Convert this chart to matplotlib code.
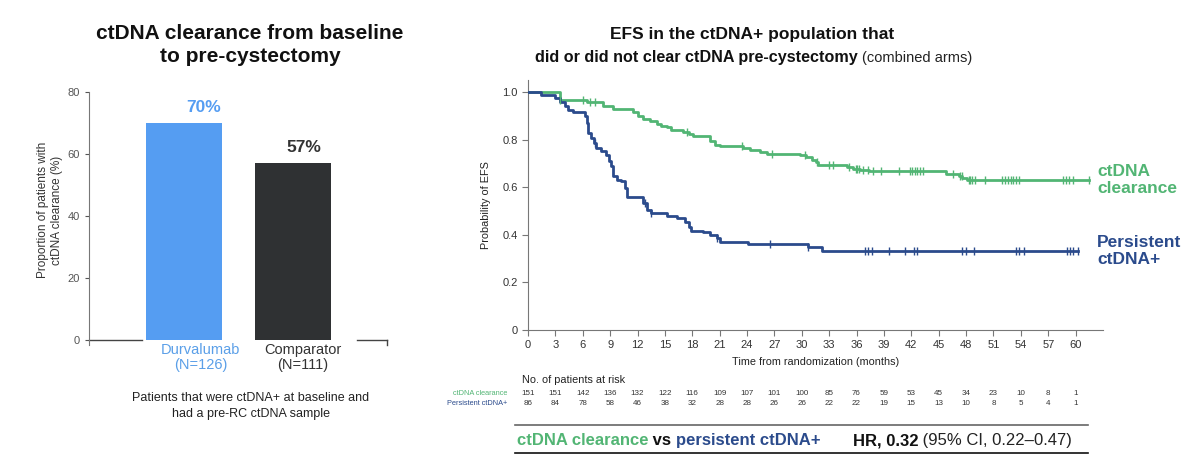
import numpy as np
import matplotlib
matplotlib.use("Agg")
import matplotlib.pyplot as plt
from matplotlib import font_manager
from matplotlib.transforms import blended_transform_factory

# ---------------- data ----------------
bar_categories = ["Durvalumab\n(N=126)", "Comparator\n(N=111)"]
bar_values = [70, 57]
bar_labels = ["70%", "57%"]
bar_yticks = [0, 20, 40, 60, 80]

# KM: ctDNA clearance (green)
clr_times = [0, 3.5, 6.5, 8.2, 9.3, 11.5, 12.0, 12.6, 13.4, 14.1, 14.6, 15.2, 15.7, 17.0, 17.6,
             18.1, 19.9, 20.5, 21.0, 23.6, 24.3, 25.4, 26.2, 29.8, 30.5, 31.1, 31.5, 31.8,
             35.0, 35.6, 36.4, 37.4, 45.8, 47.2, 47.6, 48.1]
clr_surv = [1.0, 0.965, 0.958, 0.94, 0.928, 0.914, 0.897, 0.886, 0.876, 0.867, 0.855, 0.851,
            0.841, 0.831, 0.824, 0.813, 0.792, 0.778, 0.771, 0.764, 0.757, 0.749, 0.74, 0.733,
            0.726, 0.715, 0.704, 0.692, 0.684, 0.676, 0.672, 0.667, 0.656, 0.648, 0.64, 0.632]
clr_end = 61.5
clr_censor = [3.5, 6.0, 6.8, 7.3, 17.4, 23.4, 26.7, 30.4, 31.7, 33.0, 33.4, 35.2, 35.9, 36.1,
              36.3, 36.7, 37.2, 37.8, 38.7, 40.7, 41.8, 42.1, 42.4, 42.6, 42.9, 43.3, 46.6,
              47.3, 47.5, 48.3, 48.4, 48.6, 49.0, 50.1, 51.9, 52.3, 52.6, 52.9, 53.1, 53.5,
              53.8, 58.6, 58.9, 59.3, 59.7, 61.5]

# KM: persistent ctDNA+ (blue)
per_times = [0, 1.4, 2.0, 3.0, 3.5, 4.0, 4.4, 4.9, 6.2, 6.5, 6.6, 6.9, 7.2, 7.5, 8.0, 8.6, 8.9,
             9.1, 9.3, 9.7, 10.2, 10.6, 10.8, 12.6, 13.0, 13.5, 15.2, 16.3, 17.2, 17.6, 17.9,
             19.2, 19.9, 20.7, 21.0, 24.1, 30.7, 32.2]
per_surv = [1.0, 0.989, 0.985, 0.975, 0.958, 0.942, 0.926, 0.914, 0.897, 0.869, 0.827, 0.806,
            0.785, 0.764, 0.75, 0.736, 0.708, 0.687, 0.645, 0.63, 0.624, 0.596, 0.56, 0.532,
            0.504, 0.49, 0.479, 0.469, 0.455, 0.434, 0.416, 0.413, 0.399, 0.385, 0.371, 0.36,
            0.35, 0.33]
per_end = 60.3
per_censor = [7.3, 12.8, 13.5, 20.7, 26.5, 30.7, 36.9, 37.3, 37.7, 39.5, 41.3, 42.3, 42.6,
              47.6, 48.0, 48.9, 53.5, 53.8, 54.3, 59.1, 59.4, 59.7, 60.3]

risk_times = list(range(0, 61, 3))
risk_clearance = [151, 151, 142, 136, 132, 122, 116, 109, 107, 101, 100, 85, 76, 59, 53, 45,
                  34, 23, 10, 8, 1]
risk_persistent = [86, 84, 78, 58, 46, 38, 32, 28, 28, 26, 26, 22, 22, 19, 15, 13, 10, 8, 5,
                   4, 1]
km_yticks = [0, 0.2, 0.4, 0.6, 0.8, 1.0]
km_yticklabels = ["0", "0.2", "0.4", "0.6", "0.8", "1.0"]

# ---------------- style ----------------
names = {f.name for f in font_manager.fontManager.ttflist}
fam = [n for n in ["Liberation Sans Narrow", "Liberation Sans", "DejaVu Sans"] if n in names]
plt.rcParams["font.family"] = fam

GREEN = "#52B574"
BLUE = "#2B4B8C"
BAR_BLUE = "#559DF2"
BAR_DARK = "#2F3133"
LBL_BLUE = "#5A9FE8"
GRAY = "#555555"
SPINE = "#777777"

W, H = 1200, 465
fig = plt.figure(figsize=(12, 4.65), dpi=100)


def fx(px):
    return px / W


def fy(py):
    return 1 - py / H


# ---------------- left bar chart ----------------
ax1 = fig.add_axes([fx(89), fy(345), fx(298), (345 - 92) / H])
ax1.set_ylim(-1.6, 80)
ax1.set_xlim(-0.875, 1.862)
xpos = np.arange(len(bar_values))
ax1.bar(xpos, bar_values, width=0.7, color=[BAR_BLUE, BAR_DARK])
for sp in ["top", "right", "bottom"]:
    ax1.spines[sp].set_visible(False)
ax1.spines["left"].set_color(SPINE)
ax1.set_yticks(bar_yticks)
ax1.set_yticklabels([str(v) for v in bar_yticks])
ax1.tick_params(axis="y", labelsize=8, colors=GRAY, length=3, width=0.8)
ax1.set_xticks([])
# broken baseline
ax1.plot([-0.875, -0.385], [0, 0], color="#444444", lw=1, clip_on=False)
ax1.plot([1.587, 1.862], [0, 0], color="#444444", lw=1, clip_on=False)
ax1.plot([1.862, 1.862], [0, -1.6], color="#444444", lw=1, clip_on=False)
lbl_colors = [LBL_BLUE, "#333333"]
pct_colors = [BAR_BLUE, "#333333"]
lbl_offsets = [0.15, 0.09]
pct_offsets = [0.18, 0.10]
for i, (cat, v, pl) in enumerate(zip(bar_categories, bar_values, bar_labels)):
    ax1.text(xpos[i] + lbl_offsets[i], -0.8, cat, ha="center", va="top", fontsize=10.5,
             color=lbl_colors[i], linespacing=1.15)
    ax1.text(xpos[i] + pct_offsets[i], v + 5, pl, ha="center", va="center", fontsize=12.5,
             fontweight="bold", color=pct_colors[i])
fig.text(fx(50), fy(210), "Proportion of patients with\nctDNA clearance (%)", rotation=90,
         ha="center", va="center", fontsize=8.5, color="#333333", linespacing=1.3)
fig.text(fx(250), fy(45), "ctDNA clearance from baseline\nto pre-cystectomy", ha="center",
         va="center", fontsize=15, fontweight="bold", color="#111111", linespacing=1.3)
fig.text(fx(251), fy(406), "Patients that were ctDNA+ at baseline and\nhad a pre-RC ctDNA sample",
         ha="center", va="center", fontsize=9, color="#222222", linespacing=1.45)

# ---------------- right KM chart ----------------
ax2 = fig.add_axes([fx(528), fy(330), fx(575), (330 - 80) / H])
ax2.set_xlim(0, 63)
ax2.set_ylim(0, 1.05)


def draw_km(times, surv, end, censor, color):
    t = np.array(times + [end])
    s = np.array(surv + [surv[-1]])
    ax2.step(t, s, where="post", color=color, lw=2.0, zorder=3)
    tt = np.array(times)
    idx = np.searchsorted(tt, np.array(censor), side="right") - 1
    ax2.plot(censor, np.array(surv)[idx], ls="none", marker="|", ms=5.5, mew=1.0,
             color=color, zorder=4)


draw_km(clr_times, clr_surv, clr_end, clr_censor, GREEN)
draw_km(per_times, per_surv, per_end, per_censor, BLUE)

for sp in ["top", "right"]:
    ax2.spines[sp].set_visible(False)
for sp in ["left", "bottom"]:
    ax2.spines[sp].set_color(SPINE)
ax2.set_xticks(risk_times)
ax2.set_xticklabels([str(t) for t in risk_times])
ax2.set_yticks(km_yticks)
ax2.set_yticklabels(km_yticklabels)
ax2.tick_params(labelsize=8, colors="#333333", length=4, width=0.8)
ax2.tick_params(axis="both", color=SPINE)
ax2.set_xlabel("Time from randomization (months)", fontsize=7.8, color="#222222", labelpad=5)
ax2.set_ylabel("Probability of EFS", fontsize=7.8, color="#222222", labelpad=8)

fig.text(fx(1097), fy(180), "ctDNA\nclearance", ha="left", va="center", fontsize=12.5,
         fontweight="bold", color=GREEN, linespacing=1.2)
fig.text(fx(1097), fy(251), "Persistent\nctDNA+", ha="left", va="center", fontsize=12.5,
         fontweight="bold", color=BLUE, linespacing=1.2)

# risk table
tr = blended_transform_factory(ax2.transData, fig.transFigure)
fig.text(fx(522), fy(380), "No. of patients at risk", ha="left", va="center", fontsize=7.8,
         color="#222222")
fig.text(fx(507), fy(393), "ctDNA clearance", ha="right", va="center", fontsize=5.3,
         color=GREEN)
fig.text(fx(507), fy(403), "Persistent ctDNA+", ha="right", va="center", fontsize=5.3,
         color=BLUE)
for t, a, b in zip(risk_times, risk_clearance, risk_persistent):
    ax2.text(t, fy(393), str(a), transform=tr, ha="center", va="center", fontsize=5.8,
             color="#333333")
    ax2.text(t, fy(403), str(b), transform=tr, ha="center", va="center", fontsize=5.8,
             color="#333333")

# title right
fig.text(fx(752), fy(35), "EFS in the ctDNA+ population that", ha="center", va="center",
         fontsize=12.5, fontweight="bold", color="#111111")

fig.canvas.draw()
renderer = fig.canvas.get_renderer()


def seq_text(x_px, y_px, parts):
    x = x_px
    for txt, kw in parts:
        t = fig.text(fx(x), fy(y_px), txt, ha="left", va="baseline", **kw)
        bb = t.get_window_extent(renderer=renderer)
        x += bb.width
    return x


seq_text(535, 62, [("did or did not clear ctDNA pre-cystectomy ",
                    dict(fontsize=11.6, fontweight="bold", color="#111111")),
                   ("(combined arms)", dict(fontsize=10.5, color="#222222"))])

# HR box
fig.add_artist(plt.Line2D([fx(515), fx(1088)], [fy(425), fy(425)], color="#666666", lw=1.2))
fig.add_artist(plt.Line2D([fx(515), fx(1088)], [fy(453), fy(453)], color="#111111", lw=1.2))
seq_text(517, 445, [("ctDNA clearance", dict(fontsize=12, fontweight="bold", color=GREEN)),
                    (" vs ", dict(fontsize=12, fontweight="bold", color="#111111")),
                    ("persistent ctDNA+", dict(fontsize=12, fontweight="bold", color=BLUE))])
seq_text(853, 445, [("HR, 0.32", dict(fontsize=12, fontweight="bold", color="#111111")),
                    (" (95% CI, 0.22\u20130.47)", dict(fontsize=12, color="#222222"))])

fig.savefig("out.png", dpi=100, facecolor="white")
